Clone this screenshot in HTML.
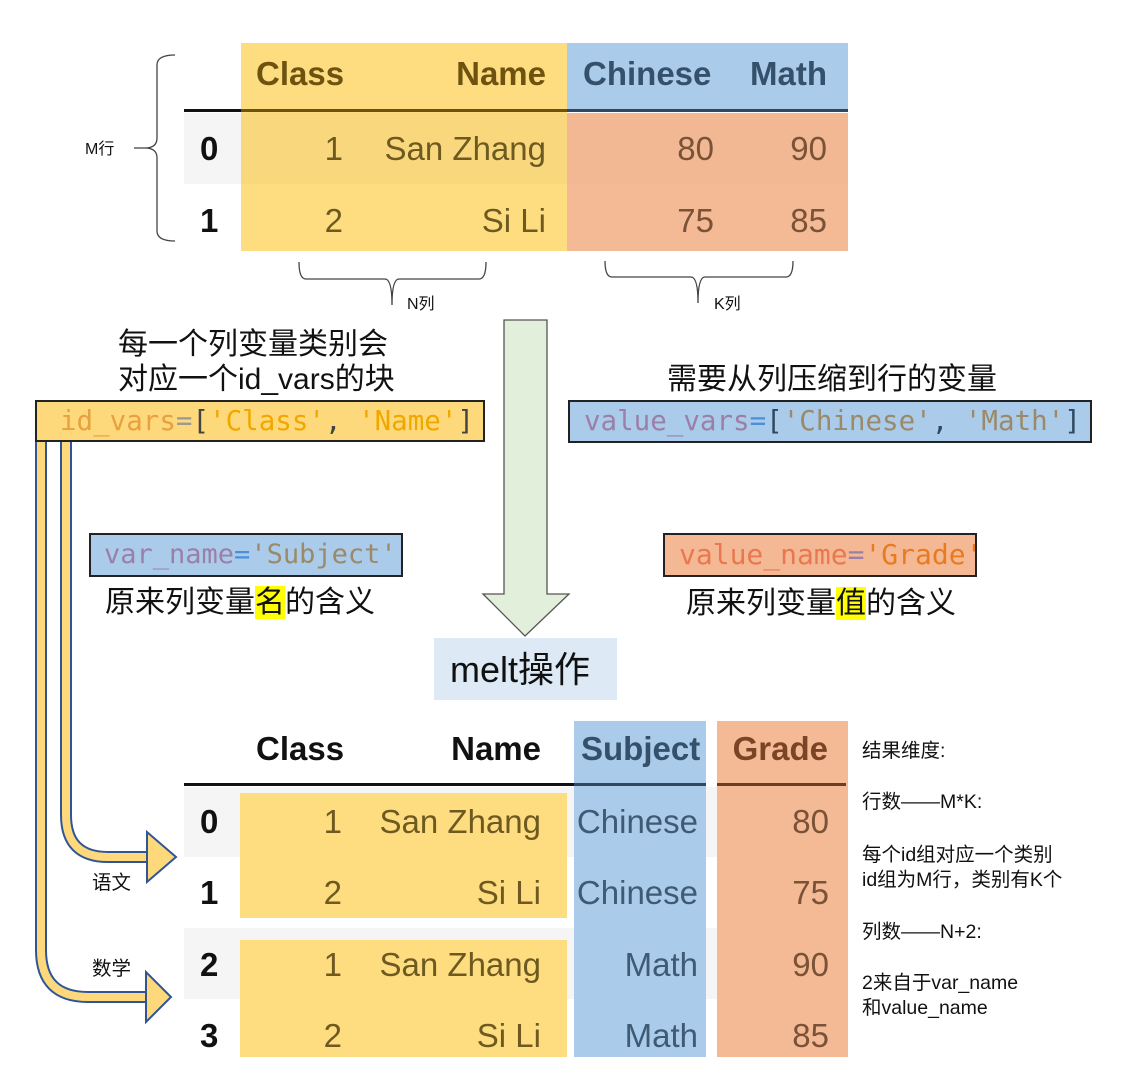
<!DOCTYPE html>
<html><head><meta charset="utf-8"><style>
body{margin:0;width:1126px;height:1081px;background:#fff;position:relative;overflow:hidden;font-family:"Liberation Sans","Noto Sans CJK SC",sans-serif}
.a{position:absolute;white-space:nowrap}
.t{font-size:33px;line-height:36px}
.b{font-weight:bold}
.r{text-align:right}
.m{font-family:"DejaVu Sans Mono","Liberation Mono",monospace;font-size:27.5px;line-height:36px}
.cn{font-size:30px;line-height:35px}
.n{font-size:19.5px;line-height:24px;color:#111}
</style></head><body>
<!-- top table -->
<div class="a" style="left:184px;top:113px;width:57px;height:71px;background:#f5f5f5"></div>
<div class="a" style="left:241px;top:43px;width:326px;height:208px;background:#fedc80"></div>
<div class="a" style="left:241px;top:113px;width:326px;height:71px;background:#f9d87d"></div>
<div class="a" style="left:567px;top:43px;width:281px;height:69px;background:#abcbea"></div>
<div class="a" style="left:567px;top:113px;width:281px;height:138px;background:#f4ba95"></div>
<div class="a" style="left:567px;top:113px;width:281px;height:71px;background:#f1b893"></div>
<div class="a" style="left:184px;top:109px;width:57px;height:3px;background:#111"></div>
<div class="a" style="left:241px;top:109px;width:326px;height:3px;background:#6e5310"></div>
<div class="a" style="left:567px;top:109px;width:281px;height:3px;background:#2f4862"></div>
<div class="a t b" style="left:256px;top:56px;color:#6e5310">Class</div>
<div class="a t b r" style="left:400px;width:146px;top:56px;color:#6e5310">Name</div>
<div class="a t b" style="left:583px;top:56px;color:#34506b">Chinese</div>
<div class="a t b r" style="left:700px;width:127px;top:56px;color:#34506b">Math</div>
<div class="a t b" style="left:200px;top:131px;color:#111">0</div>
<div class="a t b" style="left:200px;top:203px;color:#111">1</div>
<div class="a t r" style="left:290px;width:53px;top:131px;color:#6e5a20">1</div>
<div class="a t r" style="left:290px;width:53px;top:203px;color:#6e5a20">2</div>
<div class="a t r" style="left:360px;width:186px;top:131px;color:#6e5a20">San Zhang</div>
<div class="a t r" style="left:360px;width:186px;top:203px;color:#6e5a20">Si Li</div>
<div class="a t r" style="left:620px;width:94px;top:131px;color:#7a5238">80</div>
<div class="a t r" style="left:620px;width:94px;top:203px;color:#7a5238">75</div>
<div class="a t r" style="left:730px;width:97px;top:131px;color:#7a5238">90</div>
<div class="a t r" style="left:730px;width:97px;top:203px;color:#7a5238">85</div>

<svg class="a" style="left:0;top:0" width="1126" height="1081">
<g fill="none" stroke="#444" stroke-width="1.3">
<path d="M175 55 Q157 55 157 65 L157 138 Q157 148 145 148 Q157 148 157 158 L157 231 Q157 241 175 241"/>
<path d="M134 148 L145 148"/>
<path d="M299 262 Q299 279 306 279 L385 279 Q392 279 392 305 Q392 279 399 279 L479 279 Q486 279 486 262"/>
<path d="M605 261 Q605 277 612 277 L691 277 Q698 277 698 303 Q698 277 705 277 L786 277 Q793 277 793 261"/>
</g>
<polygon points="504,320 547,320 547,594 569,594 525,636 483,594 504,594" fill="#e2efda" stroke="#555" stroke-width="1.3"/>
<g fill="none" stroke-linecap="butt">
<path d="M41 442 L41 950 Q41 997 88 997 L147 997" stroke="#2f5597" stroke-width="12"/>
<path d="M41 442 L41 950 Q41 997 88 997 L149 997" stroke="#fed97c" stroke-width="8"/>
<path d="M66 442 L66 815 Q66 857 108 857 L148 857" stroke="#2f5597" stroke-width="12"/>
<path d="M66 442 L66 815 Q66 857 108 857 L150 857" stroke="#fed97c" stroke-width="8"/>
</g>
<polygon points="146,1002 146,1022 171,997 146,972 146,991" fill="#fed97c" stroke="#2f5597" stroke-width="2"/>
<polygon points="147,862 147,882 176,857 147,832 147,851" fill="#fed97c" stroke="#2f5597" stroke-width="2"/>
</svg>
<div class="a n" style="left:85px;top:138px;font-size:16px">M行</div>
<div class="a n" style="left:407px;top:293px;font-size:16px">N列</div>
<div class="a n" style="left:714px;top:293px;font-size:16px">K列</div>

<div class="a cn" style="left:118px;top:327px;color:#111">每一个列变量类别会</div>
<div class="a cn" style="left:118px;top:362px;color:#111">对应一个id_vars的块</div>
<div class="a" style="left:35px;top:400px;width:446px;height:38px;background:#fed97c;border:2px solid #222"></div>
<div class="a m" style="left:60px;top:403px"><span style="color:#e8a040">id_vars</span><span style="color:#999">=</span><span style="color:#444">[</span><span style="color:#f0a800">'Class'</span><span style="color:#444">, </span><span style="color:#f0a800">'Name'</span><span style="color:#444">]</span></div>

<div class="a cn" style="left:667px;top:362px;color:#111">需要从列压缩到行的变量</div>
<div class="a" style="left:568px;top:400px;width:520px;height:39px;background:#abcbea;border:2px solid #222"></div>
<div class="a m" style="left:584px;top:403px"><span style="color:#9a80a8">value_vars</span><span style="color:#4a90d9">=</span><span style="color:#2f4862">[</span><span style="color:#9a8a6a">'Chinese'</span><span style="color:#2f4862">, </span><span style="color:#9a8a6a">'Math'</span><span style="color:#2f4862">]</span></div>

<div class="a" style="left:89px;top:533px;width:310px;height:40px;background:#abcbea;border:2px solid #222"></div>
<div class="a m" style="left:104px;top:537px;font-size:27px"><span style="color:#9a80a8">var_name</span><span style="color:#4a90d9">=</span><span style="color:#9a8a6a">'Subject'</span></div>
<div class="a cn" style="left:105px;top:585px;color:#111">原来列变量<span style="background:#ffff00">名</span>的含义</div>

<div class="a" style="left:663px;top:533px;width:310px;height:40px;background:#f4b994;border:2px solid #222"></div>
<div class="a m" style="left:679px;top:537px;font-size:28px;overflow:hidden;width:296px"><span style="color:#e87850">value_name</span><span style="color:#9a80a8">=</span><span style="color:#e87b20">'Grade'</span></div>
<div class="a cn" style="left:686px;top:586px;color:#111">原来列变量<span style="background:#ffff00">值</span>的含义</div>

<div class="a" style="left:434px;top:638px;width:183px;height:62px;background:#dde9f5"></div>
<div class="a" style="left:450px;top:648px;font-size:36px;line-height:44px;color:#111">melt操作</div>

<!-- bottom table -->
<div class="a" style="left:184px;top:787px;width:662px;height:70px;background:#f5f5f5"></div>
<div class="a" style="left:184px;top:928px;width:662px;height:71px;background:#f5f5f5"></div>
<div class="a" style="left:240px;top:793px;width:327px;height:125px;background:#fedc80"></div>
<div class="a" style="left:240px;top:940px;width:327px;height:117px;background:#fedc80"></div>
<div class="a" style="left:574px;top:721px;width:132px;height:336px;background:#abcbea"></div>
<div class="a" style="left:717px;top:721px;width:131px;height:336px;background:#f4ba95"></div>
<div class="a" style="left:184px;top:783px;width:522px;height:3px;background:#111"></div>
<div class="a" style="left:574px;top:783px;width:132px;height:3px;background:#2f4862"></div>
<div class="a" style="left:717px;top:783px;width:129px;height:3px;background:#6b3e22"></div>
<div class="a t b" style="left:256px;top:731px;color:#111">Class</div>
<div class="a t b r" style="left:400px;width:141px;top:731px;color:#111">Name</div>
<div class="a t b" style="left:581px;top:731px;color:#34506b">Subject</div>
<div class="a t b r" style="left:720px;width:108px;top:731px;color:#7a4426">Grade</div>
<div class="a t b" style="left:200px;top:804px;color:#111">0</div>
<div class="a t b" style="left:200px;top:875px;color:#111">1</div>
<div class="a t b" style="left:200px;top:947px;color:#111">2</div>
<div class="a t b" style="left:200px;top:1018px;color:#111">3</div>
<div class="a t r" style="left:290px;width:52px;top:804px;color:#6e5a20">1</div>
<div class="a t r" style="left:290px;width:52px;top:875px;color:#6e5a20">2</div>
<div class="a t r" style="left:290px;width:52px;top:947px;color:#6e5a20">1</div>
<div class="a t r" style="left:290px;width:52px;top:1018px;color:#6e5a20">2</div>
<div class="a t r" style="left:350px;width:191px;top:804px;color:#6e5a20">San Zhang</div>
<div class="a t r" style="left:350px;width:191px;top:875px;color:#6e5a20">Si Li</div>
<div class="a t r" style="left:350px;width:191px;top:947px;color:#6e5a20">San Zhang</div>
<div class="a t r" style="left:350px;width:191px;top:1018px;color:#6e5a20">Si Li</div>
<div class="a t r" style="left:560px;width:138px;top:804px;color:#3e5a74">Chinese</div>
<div class="a t r" style="left:560px;width:138px;top:875px;color:#3e5a74">Chinese</div>
<div class="a t r" style="left:560px;width:138px;top:947px;color:#3e5a74">Math</div>
<div class="a t r" style="left:560px;width:138px;top:1018px;color:#3e5a74">Math</div>
<div class="a t r" style="left:740px;width:89px;top:804px;color:#7a5238">80</div>
<div class="a t r" style="left:740px;width:89px;top:875px;color:#7a5238">75</div>
<div class="a t r" style="left:740px;width:89px;top:947px;color:#7a5238">90</div>
<div class="a t r" style="left:740px;width:89px;top:1018px;color:#7a5238">85</div>

<div class="a n" style="left:92px;top:871px">语文</div>
<div class="a n" style="left:92px;top:957px">数学</div>

<div class="a n" style="left:862px;top:739px">结果维度:</div>
<div class="a n" style="left:862px;top:790px">行数——M*K:</div>
<div class="a n" style="left:862px;top:843px">每个id组对应一个类别</div>
<div class="a n" style="left:862px;top:868px">id组为M行，类别有K个</div>
<div class="a n" style="left:862px;top:920px">列数——N+2:</div>
<div class="a n" style="left:862px;top:971px">2来自于var_name</div>
<div class="a n" style="left:862px;top:996px">和value_name</div>
</body></html>
